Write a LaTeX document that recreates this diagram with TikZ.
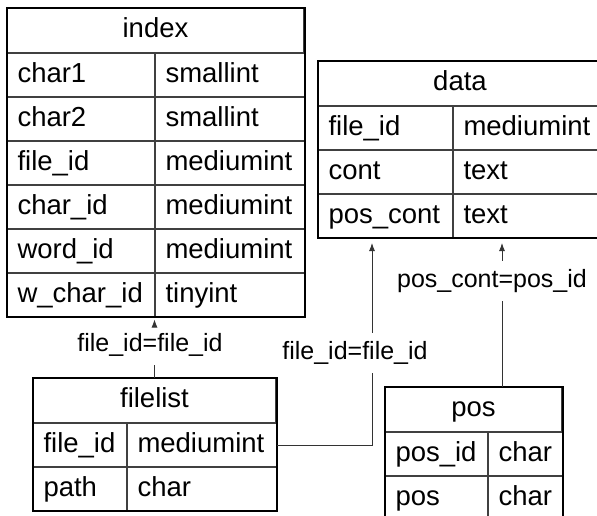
\documentclass[tikz,border=0pt]{standalone}
\usepackage{fontspec}
\setmainfont{Liberation Sans}
\usetikzlibrary{arrows.meta,positioning}

\tikzset{
  hdr/.style={draw=black!75, line width=1pt, anchor=north west, minimum height=44pt,
    inner sep=0pt, text height=20pt, text depth=6pt, font=\fontsize{27.5}{30}\selectfont},
  cell/.style={draw=black!75, line width=1pt, minimum height=43pt, inner xsep=10pt,
    inner ysep=0pt, text height=20pt, text depth=6pt, text width=#1, align=left,
    font=\fontsize{27.5}{30}\selectfont},
  frame/.style={line width=2.6pt},
  rel/.style={font=\fontsize{25}{28}\selectfont, minimum height=40pt, inner sep=0pt},
  link/.style={draw=black!80, line width=0.9pt},
  tip/.style={-{Latex[length=8pt,width=6pt]}}
}

\begin{document}
\begin{tikzpicture}[x=1pt,y=-1pt]
  \clip (0,0) rectangle (597,515);
  \fill[white] (0,0) rectangle (597,515);
  % index
  \node[hdr, minimum width=296pt] (ihd) at (7,8) {index};
  \node[cell=127pt, below right=0pt and 0pt of ihd.south west] (i1a) {char1};
  \node[cell=129pt, right=0pt of i1a] (i1b) {smallint};
  \node[cell=127pt, below=0pt of i1a] (i2a) {char2};
  \node[cell=129pt, right=0pt of i2a] (i2b) {smallint};
  \node[cell=127pt, below=0pt of i2a] (i3a) {file\_id};
  \node[cell=129pt, right=0pt of i3a] (i3b) {mediumint};
  \node[cell=127pt, below=0pt of i3a] (i4a) {char\_id};
  \node[cell=129pt, right=0pt of i4a] (i4b) {mediumint};
  \node[cell=127pt, below=0pt of i4a] (i5a) {word\_id};
  \node[cell=129pt, right=0pt of i5a] (i5b) {mediumint};
  \node[cell=127pt, below=0pt of i5a] (i6a) {w\_char\_id};
  \node[cell=129pt, right=0pt of i6a] (i6b) {tinyint};
  \draw[frame] (ihd.north west) rectangle (i6b.south east);
  % data
  \node[hdr, minimum width=283pt] (dhd) at (318,61) {data};
  \node[cell=114pt, below right=0pt and 0pt of dhd.south west] (d1a) {file\_id};
  \node[cell=129pt, right=0pt of d1a] (d1b) {mediumint};
  \node[cell=114pt, below=0pt of d1a] (d2a) {cont};
  \node[cell=129pt, right=0pt of d2a] (d2b) {text};
  \node[cell=114pt, below=0pt of d2a] (d3a) {pos\_cont};
  \node[cell=129pt, right=0pt of d3a] (d3b) {text};
  \draw[frame] (dhd.north west) rectangle (d3b.south east);
  % filelist
  \node[hdr, minimum width=242pt] (fhd) at (33,378) {filelist};
  \node[cell=73pt, below right=0pt and 0pt of fhd.south west] (f1a) {file\_id};
  \node[cell=129pt, right=0pt of f1a] (f1b) {mediumint};
  \node[cell=73pt, below=0pt of f1a] (f2a) {path};
  \node[cell=129pt, right=0pt of f2a] (f2b) {char};
  \draw[frame] (fhd.north west) rectangle (f2b.south east);
  % pos
  \node[hdr, minimum width=176pt] (phd) at (385,387) {pos};
  \node[cell=82pt, below right=0pt and 0pt of phd.south west] (p1a) {pos\_id};
  \node[cell=54pt, right=0pt of p1a] (p1b) {char};
  \node[cell=82pt, below=0pt of p1a] (p2a) {pos};
  \node[cell=54pt, right=0pt of p2a] (p2b) {char};
  \draw[frame] (phd.north west) rectangle (p2b.south east);
  % relations
  \node[rel] (lbA) at (150,345) {file\_id=file\_id};
  \node[rel] (lbB) at (355,353) {file\_id=file\_id};
  \node[rel] (lbC) at (492,281) {pos\_cont=pos\_id};
  \coordinate (colB) at (372,0);
  \coordinate (colC) at (502,0);
  \draw[link] (fhd.north) -- (fhd.north |- lbA.south);
  \draw[link,tip,shorten >=2.5pt] (fhd.north |- lbA.north) -- (fhd.north |- i6a.south);
  \draw[link] (f1b.east) -| (colB |- lbB.south);
  \draw[link,tip,shorten >=5pt] (colB |- lbB.north) -- (colB |- d3a.south);
  \draw[link] (colC |- phd.north) -- (colC |- lbC.south);
  \draw[link,tip,shorten >=5pt] (colC |- lbC.north) -- (colC |- d3a.south);
\end{tikzpicture}
\end{document}
